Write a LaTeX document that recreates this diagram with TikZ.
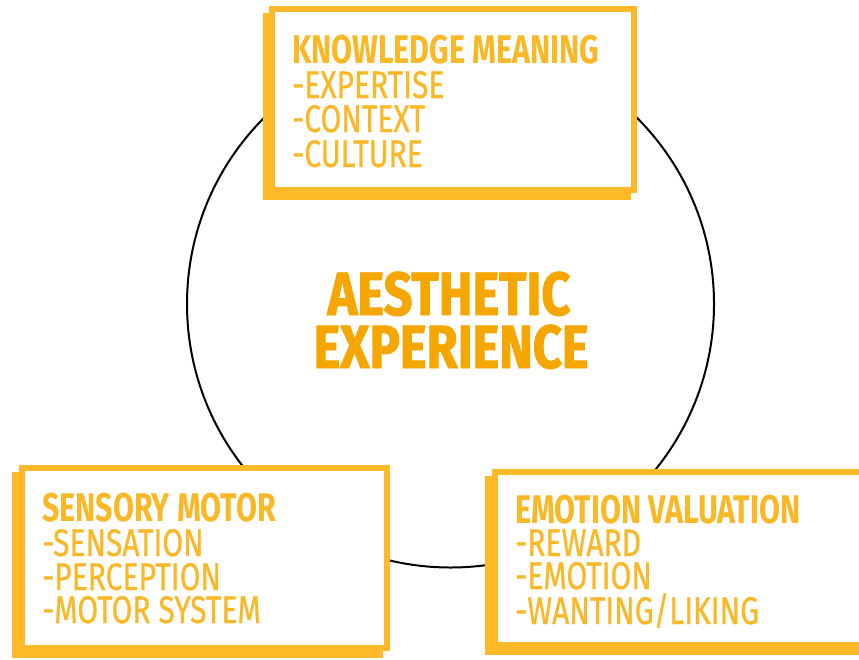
\documentclass[tikz,border=0pt]{standalone}
\usepackage{fontspec}
\setmainfont{Fira Sans}
\newfontfamily\condfont{Fira Sans}[FakeStretch=0.78,FakeBold=0.6]
\newfontfamily\headfont{Fira Sans}[FakeStretch=0.76]
\newfontfamily\bigfont{Fira Sans}[FakeStretch=0.83,FakeBold=1.6]
\definecolor{boxyellow}{RGB}{253,185,39}
\definecolor{textyellow}{RGB}{250,184,38}
\definecolor{centreorange}{RGB}{246,166,0}
\tikzset{
  shadowbox/.style={fill=boxyellow, draw=none},
  frontbox/.style={fill=white, draw=boxyellow, line width=6pt},
  headtext/.style={anchor=base west, inner sep=0pt, text height=28pt, text depth=0pt, text=textyellow, font=\headfont\bfseries\fontsize{40}{40}\selectfont},
  itemtext/.style={anchor=base west, inner sep=0pt, text height=27pt, text depth=0pt, text=textyellow, font=\condfont\fontsize{38.5}{38.5}\selectfont},
  bigtext/.style={anchor=base, inner sep=0pt, text height=42pt, text depth=0pt, text=centreorange, font=\bigfont\bfseries\fontsize{61}{61}\selectfont},
}
\begin{document}
\begin{tikzpicture}[x=1pt,y=-1pt]
\clip (0,0) rectangle (859,659);
\fill[white] (0,0) rectangle (859,659);
% circle
\coordinate (c) at (450.5,304);
\draw[line width=2pt, black] (c) circle[radius=263.5pt];
% centre text
\node[bigtext] (ae) at (449,315) {AESTHETIC};
\node[bigtext] (ex) at (451,368) {EXPERIENCE};
% top box
\fill[shadowbox] (263,13) rectangle (631,200);
\draw[frontbox] (272,9) rectangle (634,190);
\node[headtext] (k0) at (292,63) {KNOWLEDGE MEANING};
\node[itemtext] (k1) at (292,98) {-EXPERTISE};
\node[itemtext] (k2) at (292,132) {-CONTEXT};
\node[itemtext] (k3) at (292,167) {-CULTURE};
% bottom-left box
\fill[shadowbox] (12,472) rectangle (383,658);
\draw[frontbox] (22,468) rectangle (387,648);
\node[headtext] (s0) at (42,521) {SENSORY MOTOR};
\node[itemtext] (s1) at (42,556) {-SENSATION};
\node[itemtext] (s2) at (42,590) {-PERCEPTION};
\node[itemtext] (s3) at (42,623) {-MOTOR SYSTEM};
% bottom-right box
\fill[shadowbox] (485,476) rectangle (876,655);
\draw[frontbox] (495,472) rectangle (880,645);
\node[headtext] (e0) at (515,523) {EMOTION VALUATION};
\node[itemtext] (e1) at (515,556) {-REWARD};
\node[itemtext] (e2) at (515,589) {-EMOTION};
\node[itemtext] (e3) at (515,624) {-WANTING/LIKING};
\end{tikzpicture}
\end{document}
